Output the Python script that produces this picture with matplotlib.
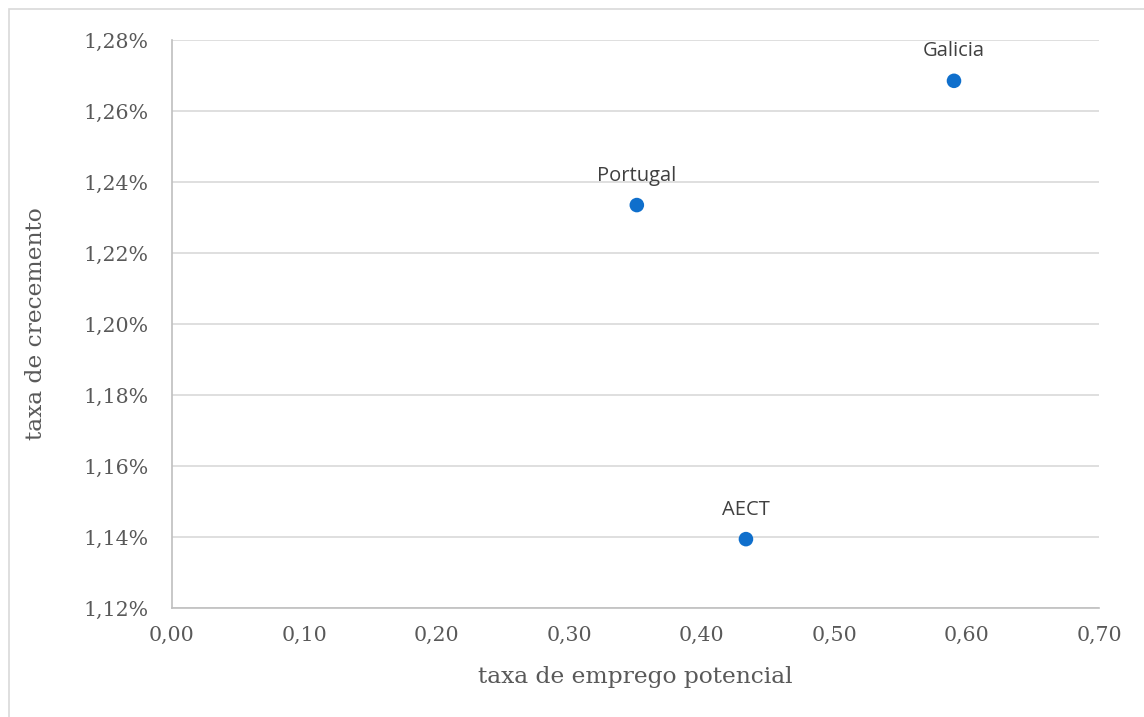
import matplotlib
matplotlib.use("Agg")
import matplotlib.pyplot as plt
from matplotlib.ticker import FuncFormatter
from matplotlib.patches import Rectangle

regions = ["Galicia", "Portugal", "AECT"]
emprego = [0.5905, 0.351, 0.4334]
crecemento = [1.2685, 1.2335, 1.1394]  # percent

x_ticks = [0.0, 0.1, 0.2, 0.3, 0.4, 0.5, 0.6, 0.7]
y_ticks = [1.12, 1.14, 1.16, 1.18, 1.20, 1.22, 1.24, 1.26, 1.28]

grey = "#595959"
serif = "DejaVu Serif"
sans = "Open Sans"

fig = plt.figure(figsize=(11.44, 7.17), dpi=100)
ax = fig.add_axes([172/1144, 1-608/717, (1099-172)/1144, (608-40)/717])

# outer chart border
fig.patches.append(Rectangle((9/1144, -0.01), 1.2, 1-9/717+0.01, transform=fig.transFigure,
                             fill=False, edgecolor="#d9d9d9", linewidth=1.2))

ax.scatter(emprego, crecemento, s=110, color="#0f6fcc", zorder=3, edgecolors="none")
for name, x, y in zip(regions, emprego, crecemento):
    ax.annotate(name, (x, y), xytext=(0, 14), textcoords="offset points",
                ha="center", va="bottom", fontsize=14.5, color="#404040", family=sans)

ax.set_xlim(0, 0.7)
ax.set_ylim(1.12, 1.28)
ax.set_xticks(x_ticks)
ax.set_yticks(y_ticks)
ax.xaxis.set_major_formatter(FuncFormatter(lambda v, p: f"{v:.2f}".replace(".", ",")))
ax.yaxis.set_major_formatter(FuncFormatter(lambda v, p: f"{v:.2f}".replace(".", ",") + "%"))
ax.grid(axis="y", color="#d9d9d9", linewidth=1.2, zorder=0)
ax.set_axisbelow(True)
for s in ["top", "right"]:
    ax.spines[s].set_visible(False)
for s in ["left", "bottom"]:
    ax.spines[s].set_color("#bfbfbf")
    ax.spines[s].set_linewidth(1.2)
ax.tick_params(length=0, labelsize=14.8, labelcolor=grey)
for lab in ax.get_xticklabels() + ax.get_yticklabels():
    lab.set_family(serif)
ax.tick_params(axis="x", pad=13)
ax.tick_params(axis="y", pad=17)

ax.set_xlabel("taxa de emprego potencial", fontsize=16.8, color=grey, family=serif, labelpad=15)
ax.set_ylabel("taxa de crecemento", fontsize=16.8, color=grey, family=serif, labelpad=26)

fig.savefig("out.png", dpi=100)
